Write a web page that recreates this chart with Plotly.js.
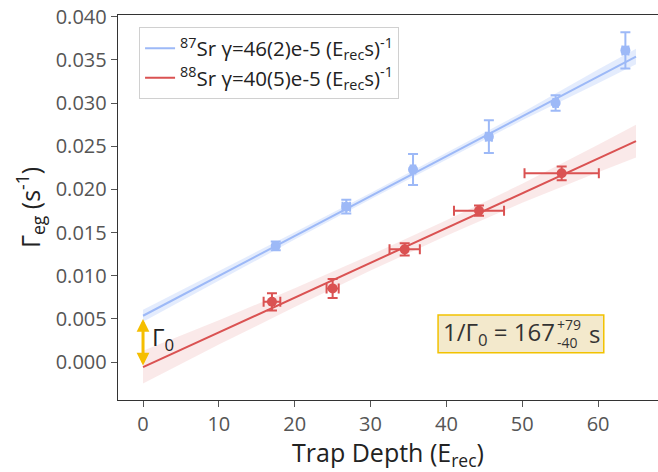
<!DOCTYPE html>
<html>
<head>
<meta charset="utf-8">
<script src="https://cdn.plot.ly/plotly-3.0.1.min.js"></script>
<style>html,body{margin:0;padding:0;background:#fff;}#chart{width:658px;height:472px;}</style>
</head>
<body>
<div id="chart"></div>
<script>
// ---- data ----
const depth87    = [17.5, 26.8, 35.6, 45.6, 54.4, 63.6];
const depth87Err = [0.3, 0.5, 0.3, 0.4, 0.3, 0.4];
const gamma87    = [0.01345, 0.0180, 0.0223, 0.0261, 0.0300, 0.0361];
const gamma87Err = [0.0005, 0.0008, 0.0018, 0.0019, 0.0009, 0.0021];

const depth88    = [17.0, 25.0, 34.5, 44.3, 55.2];
const depth88Err = [1.1, 0.8, 2.0, 3.3, 4.9];
const gamma88    = [0.00698, 0.00853, 0.01305, 0.01753, 0.02186];
const gamma88Err = [0.0010, 0.0011, 0.0007, 0.0006, 0.0008];

// linear fits (slope, intercept) as shown by the lines
const fit87 = {slope: 0.000462, intercept: 0.00536};
const fit88 = {slope: 0.000403, intercept: -0.0006};
const fitX  = [0, 10, 20, 30, 40, 50, 60, 65];
// confidence band half widths
const band87Half = [0.0007, 0.00055, 0.00042, 0.00036, 0.00036, 0.00045, 0.0008, 0.0009];
const band88Half = [0.0019, 0.0014, 0.0011, 0.0009, 0.0009, 0.0011, 0.0016, 0.0019];

const label87 = '<sup>87</sup>Sr γ=46(2)e-5 (E<sub>rec</sub>s)<sup>-1</sup>';
const label88 = '<sup>88</sup>Sr γ=40(5)e-5 (E<sub>rec</sub>s)<sup>-1</sup>';

const blue = '#9DB9F7';
const red  = '#DA5252';

const line87 = fitX.map(x => fit87.intercept + fit87.slope * x);
const line88 = fitX.map(x => fit88.intercept + fit88.slope * x);

function band(line, half, color) {
  const lo = line.map((v, i) => v - half[i]);
  const hi = line.map((v, i) => v + half[i]);
  return [
    {x: fitX, y: lo, mode: 'lines', line: {width: 0}, showlegend: false, hoverinfo: 'skip'},
    {x: fitX, y: hi, mode: 'lines', line: {width: 0}, fill: 'tonexty', fillcolor: color, showlegend: false, hoverinfo: 'skip'}
  ];
}

const traces = [
  ...band(line88, band88Half, 'rgba(218,82,82,0.13)'),
  ...band(line87, band87Half, 'rgba(157,185,247,0.28)'),
  {x: fitX, y: line87, mode: 'lines', name: label87, line: {color: blue, width: 2}},
  {x: fitX, y: line88, mode: 'lines', name: label88, line: {color: red, width: 2}},
  {x: depth87, y: gamma87, mode: 'markers', showlegend: false,
   marker: {color: blue, size: 10},
   error_y: {type: 'data', array: gamma87Err, color: blue, thickness: 2, width: 5},
   error_x: {type: 'data', array: depth87Err, color: blue, thickness: 2, width: 5}},
  {x: depth88, y: gamma88, mode: 'markers', showlegend: false,
   marker: {color: red, size: 10},
   error_y: {type: 'data', array: gamma88Err, color: red, thickness: 2, width: 5},
   error_x: {type: 'data', array: depth88Err, color: red, thickness: 2, width: 5}}
];

const font = 'Open Sans, Lato, sans-serif';
const layout = {
  width: 658, height: 472,
  margin: {l: 118, r: 0, t: 15, b: 72},
  paper_bgcolor: '#fff', plot_bgcolor: '#fff',
  font: {family: font, color: '#333'},
  showlegend: true,
  legend: {x: 0.039, y: 0.968, xanchor: 'left', yanchor: 'top', traceorder: 'normal',
           bgcolor: '#fff', bordercolor: '#d0d0d0', borderwidth: 1,
           font: {size: 20.5, color: '#222', family: font}},
  xaxis: {range: [-3.3, 67.9], tickvals: [0, 10, 20, 30, 40, 50, 60],
          showgrid: false, zeroline: false, showline: true, linecolor: '#333', linewidth: 1.3,
          mirror: true, ticks: 'outside', ticklen: 6, tickcolor: '#555', tickwidth: 1,
          tickfont: {size: 20, color: '#555', family: font},
          title: {text: 'Trap Depth (E<sub>rec</sub>)', font: {size: 25, color: '#222', family: font}, standoff: 15}},
  yaxis: {range: [-0.0044, 0.0402], tickvals: [0, 0.005, 0.01, 0.015, 0.02, 0.025, 0.03, 0.035, 0.04],
          tickformat: '.3f',
          showgrid: false, zeroline: false, showline: true, linecolor: '#333', linewidth: 1.3,
          ticks: 'outside', ticklen: 6, tickcolor: '#555', tickwidth: 1,
          tickfont: {size: 20, color: '#555', family: font},
          title: {text: 'Γ<sub>eg</sub> (s<sup>-1</sup>)', font: {size: 25, color: '#222', family: font}, standoff: 8}},
  shapes: [
    {type: 'rect', xref: 'x', yref: 'y', x0: 38.9, x1: 60.75, y0: 0.00108, y1: 0.00544,
     fillcolor: '#F3E9CC', line: {color: '#F2C200', width: 1.5}, layer: 'above'}
  ],
  annotations: [
    {x: 0, y: 0.00498, ax: 0, ay: -0.00058, xref: 'x', yref: 'y', axref: 'x', ayref: 'y',
     text: '', showarrow: true, arrowside: 'end+start', arrowhead: 2, startarrowhead: 2,
     arrowsize: 0.85, startarrowsize: 0.85, arrowwidth: 3, arrowcolor: '#F5BE00'},
    {x: 0.9, y: 0.0028, xref: 'x', yref: 'y', xanchor: 'left', yanchor: 'middle', showarrow: false,
     text: 'Γ<sub>0</sub>', font: {size: 24, color: '#222', family: font}},
    {x: 39.35, y: 0.0034, xref: 'x', yref: 'y', xanchor: 'left', yanchor: 'middle', showarrow: false,
     text: '1/Γ<sub>0</sub> = 167', font: {size: 24, color: '#333', family: font}},
    {x: 54.3, y: 0.00438, xref: 'x', yref: 'y', xanchor: 'left', yanchor: 'middle', showarrow: false,
     text: '+79', font: {size: 14, color: '#333', family: font}},
    {x: 54.3, y: 0.00228, xref: 'x', yref: 'y', xanchor: 'left', yanchor: 'middle', showarrow: false,
     text: '-40', font: {size: 14, color: '#333', family: font}},
    {x: 58.5, y: 0.00336, xref: 'x', yref: 'y', xanchor: 'left', yanchor: 'middle', showarrow: false,
     text: 's', font: {size: 24, color: '#333', family: font}}
  ]
};

Plotly.newPlot('chart', traces, layout, {displayModeBar: false, staticPlot: true});
</script>
</body>
</html>
